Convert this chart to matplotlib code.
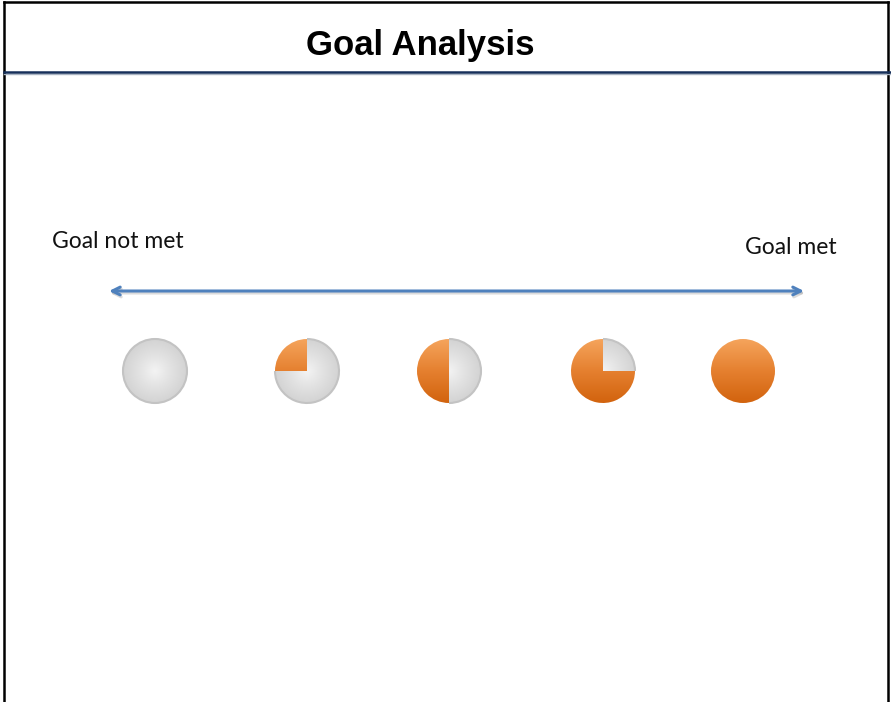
"""
Goal analysis scale: five Harvey-ball style pies from "goal not met" to "goal met".
"""

import numpy as np
import matplotlib.pyplot as plt
from matplotlib.colors import LinearSegmentedColormap
from matplotlib.lines import Line2D
from matplotlib.patches import Arc, Circle, Wedge

# data
levels = ["0%", "25%", "50%", "75%", "100%"]
fill_fraction = [0.0, 0.25, 0.5, 0.75, 1.0]
title = "Goal Analysis"
left_label = "Goal not met"
right_label = "Goal met"

# layout (pixel coordinates, y measured from the top)
W, H = 891, 702
pie_x = [155, 307, 449, 603, 743]
pie_y = 371
pie_r = 32

orange_cmap = LinearSegmentedColormap.from_list("orange", ["#d2630e", "#e5802f", "#f5a45c"])
gray_cmap = LinearSegmentedColormap.from_list("gray", ["#f3f3f3", "#e2e2e2", "#d3d3d3"])


def y_(py):
    return H - py


def shaded_patch(ax, patch, cx, cy, r, kind):
    patch.set_facecolor("none")
    patch.set_edgecolor("none")
    ax.add_patch(patch)
    ext = [cx - r, cx + r, cy - r, cy + r]
    if kind == "orange":
        grad = np.linspace(0, 1, 256).reshape(-1, 1)
        img = ax.imshow(grad, cmap=orange_cmap, extent=ext, origin="lower",
                        aspect="auto", interpolation="bilinear", zorder=3)
    else:
        g = np.linspace(-1, 1, 200)
        xx, yy = np.meshgrid(g, g)
        dist = np.clip(np.sqrt(xx ** 2 + yy ** 2), 0, 1)
        img = ax.imshow(dist, cmap=gray_cmap, extent=ext, origin="lower",
                        aspect="auto", interpolation="bilinear", zorder=2)
    img.set_clip_path(patch)


fig = plt.figure(figsize=(W / 100, H / 100), dpi=100)
ax = fig.add_axes([0, 0, 1, 1])
ax.set_xlim(0, W)
ax.set_ylim(0, H)
ax.axis("off")

# frame and title rule
ax.add_line(Line2D([4, 4], [0, y_(2)], color="black", lw=1.8))
ax.add_line(Line2D([887.5, 887.5], [0, y_(2)], color="black", lw=1.8))
ax.add_line(Line2D([4, 887.5], [y_(2), y_(2)], color="black", lw=1.8))
ax.add_line(Line2D([4, W], [y_(74), y_(74)], color="#a9b4c2", lw=1.0))
ax.add_line(Line2D([4, W], [y_(72), y_(72)], color="#16305a", lw=1.8))

ax.text(420, y_(45), title, ha="center", va="center", fontsize=25,
        fontweight="bold", family="Liberation Sans", color="black")

ax.text(52, y_(242), left_label, ha="left", va="center", fontsize=16.5,
        family="Lato", color="#111111")
ax.text(745, y_(247), right_label, ha="left", va="center", fontsize=16.5,
        family="Lato", color="#111111")

# double-headed arrow with a faint shadow
ax.annotate("", xy=(805, y_(293)), xytext=(110, y_(293)),
            arrowprops=dict(arrowstyle="<->", color="#9a9a9a", lw=2.2, alpha=0.35,
                            mutation_scale=14, shrinkA=0, shrinkB=0))
ax.annotate("", xy=(804, y_(291)), xytext=(109, y_(291)),
            arrowprops=dict(arrowstyle="<->", color="#4f81bd", lw=2.2,
                            mutation_scale=14, shrinkA=0, shrinkB=0))

# pies: gray remainder with outline, orange share from 12 o'clock counterclockwise
cy = y_(pie_y)
for cx, frac in zip(pie_x, fill_fraction):
    if frac < 1:
        start = 90 + 360 * frac
        gray = Circle((cx, cy), pie_r) if frac == 0 else Wedge((cx, cy), pie_r, start, 450)
        shaded_patch(ax, gray, cx, cy, pie_r, "gray")
        if frac == 0:
            ax.add_patch(Circle((cx, cy), pie_r, fill=False, edgecolor="#c3c3c3",
                                lw=1.5, zorder=4))
        else:
            ax.add_patch(Arc((cx, cy), 2 * pie_r, 2 * pie_r, theta1=start, theta2=450,
                             edgecolor="#c3c3c3", lw=1.5, zorder=4))
    if frac > 0:
        orange = Circle((cx, cy), pie_r) if frac == 1 else Wedge((cx, cy), pie_r, 90, 90 + 360 * frac)
        shaded_patch(ax, orange, cx, cy, pie_r, "orange")

fig.savefig("out.png", dpi=100)
